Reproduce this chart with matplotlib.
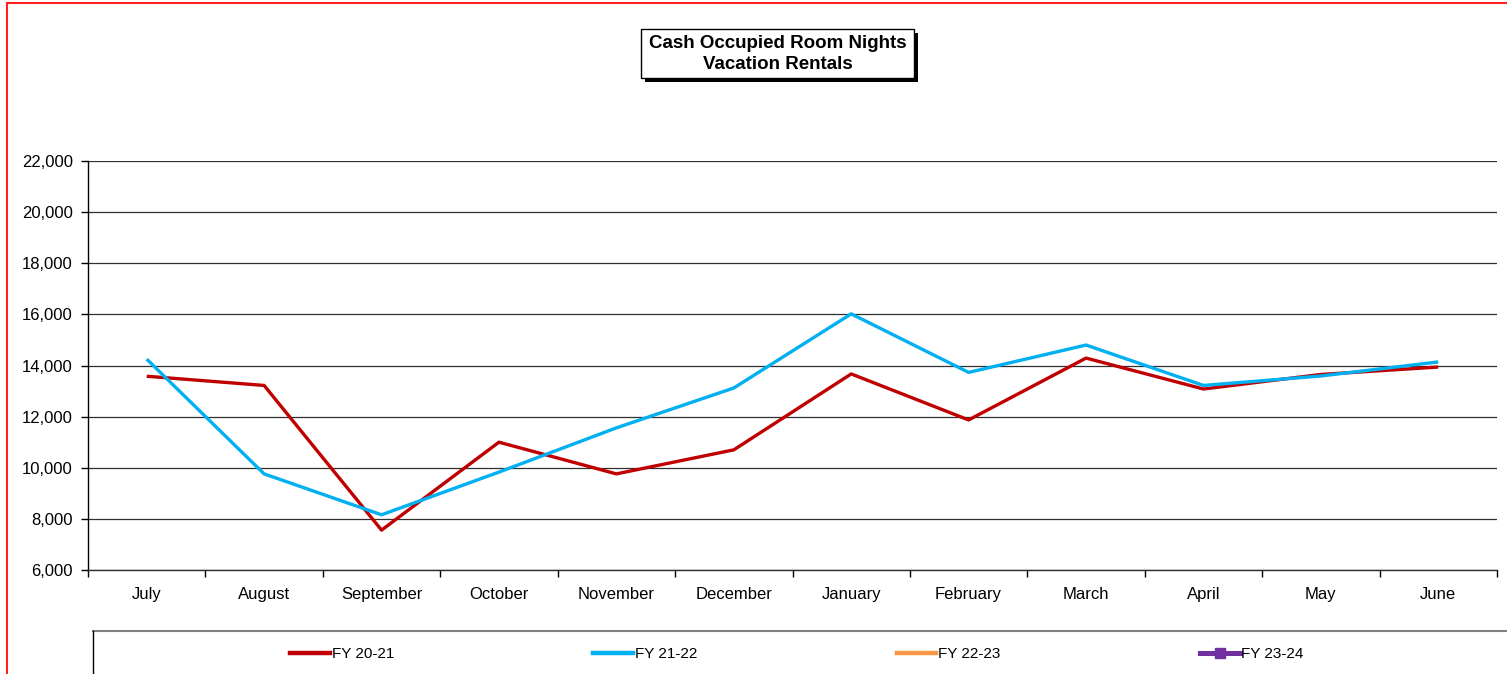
import numpy as np
import matplotlib
matplotlib.use("Agg")
import matplotlib.pyplot as plt
from matplotlib.patches import Rectangle
from matplotlib.lines import Line2D
from matplotlib.ticker import FuncFormatter, FixedLocator

plt.rcParams['font.family'] = ['Liberation Sans', 'DejaVu Sans']

months = ["July", "August", "September", "October", "November", "December",
          "January", "February", "March", "April", "May", "June"]

fy_20_21 = [13580, 13220, 7560, 11000, 9760, 10700,
            13670, 11870, 14290, 13080, 13650, 13940]
fy_21_22 = [14250, 9760, 8160, 9830, 11560, 13120,
            16020, 13730, 14800, 13220, 13590, 14140]
fy_22_23 = []
fy_23_24 = []

series_names = ["FY 20-21", "FY 21-22", "FY 22-23", "FY 23-24"]
colors = ["#C00000", "#00B0F0", "#F79646", "#7030A0"]

W, H = 1507, 674
fig = plt.figure(figsize=(W / 100, H / 100), dpi=100)

# plot area in pixel coords
x0, x1, ytop, ybot = 88, 1497, 161, 570
ax = fig.add_axes([x0 / W, 1 - ybot / H, (x1 - x0) / W, (ybot - ytop) / H])

x = np.arange(len(months))
ax.plot(x, fy_20_21, color=colors[0], lw=2.4, solid_capstyle='butt', zorder=3)
ax.plot(x, fy_21_22, color=colors[1], lw=2.4, solid_capstyle='butt', zorder=4)

ax.set_xlim(-0.5, len(months) - 0.5)
ax.set_ylim(6000, 22000)
ax.set_yticks(np.arange(6000, 22001, 2000))
ax.yaxis.set_major_formatter(FuncFormatter(lambda v, p: f"{int(v):,}"))
ax.set_xticks(x)
ax.set_xticklabels(months)
ax.xaxis.set_minor_locator(FixedLocator(np.arange(-0.5, len(months), 1)))
ax.tick_params(axis='x', which='major', length=0, pad=12, labelsize=12)
ax.tick_params(axis='x', which='minor', length=5, width=1, color='black', direction='out')
ax.tick_params(axis='y', length=5, width=1, color='black', pad=6, labelsize=12)

ax.grid(axis='y', color='#303030', lw=0.9, zorder=1)
for s in ['top', 'right']:
    ax.spines[s].set_visible(False)
ax.spines['left'].set_linewidth(1.0)
ax.spines['bottom'].set_linewidth(1.0)
ax.spines['bottom'].set_color('#303030')

# red chart-area frame
fig.add_artist(Line2D([6.5 / W, 6.5 / W], [0, 1 - 3 / H], color='#FF2020', lw=1.5,
                      transform=fig.transFigure))
fig.add_artist(Line2D([6.5 / W, 1], [1 - 3 / H, 1 - 3 / H], color='#FF2020', lw=1.5,
                      transform=fig.transFigure))

# title box with shadow
bx0, bx1, by0, by1 = 641, 914, 29, 78
fig.add_artist(Rectangle(((bx0 + 4) / W, 1 - (by1 + 4) / H), (bx1 - bx0) / W, (by1 - by0) / H,
                         transform=fig.transFigure, facecolor='black', edgecolor='black', lw=0))
fig.add_artist(Rectangle((bx0 / W, 1 - by1 / H), (bx1 - bx0) / W, (by1 - by0) / H,
                         transform=fig.transFigure, facecolor='white', edgecolor='black', lw=1))
fig.text((bx0 + bx1) / 2 / W, 1 - 54 / H, "Cash Occupied Room Nights\nVacation Rentals",
         ha='center', va='center', fontsize=13.5, fontweight='bold', linespacing=1.25)

# legend box
fig.add_artist(Line2D([93 / W, 1], [1 - 631 / H, 1 - 631 / H], color='#808080', lw=1.5,
                      transform=fig.transFigure))
fig.add_artist(Line2D([93 / W, 93 / W], [0, 1 - 631 / H], color='black', lw=1,
                      transform=fig.transFigure))

handles = [
    Line2D([], [], color=colors[0], lw=3.2),
    Line2D([], [], color=colors[1], lw=3.2),
    Line2D([], [], color=colors[2], lw=3.2),
    Line2D([], [], color=colors[3], lw=3.6, marker='s', markersize=7),
]
fig.legend(handles, series_names, loc='center left', bbox_to_anchor=(290 / W, 1 - 654 / H),
           ncol=4, frameon=False, fontsize=11, handlelength=2.6, handletextpad=0.12,
           columnspacing=13.05, borderpad=0, borderaxespad=0)

fig.savefig("out.png", dpi=100)
